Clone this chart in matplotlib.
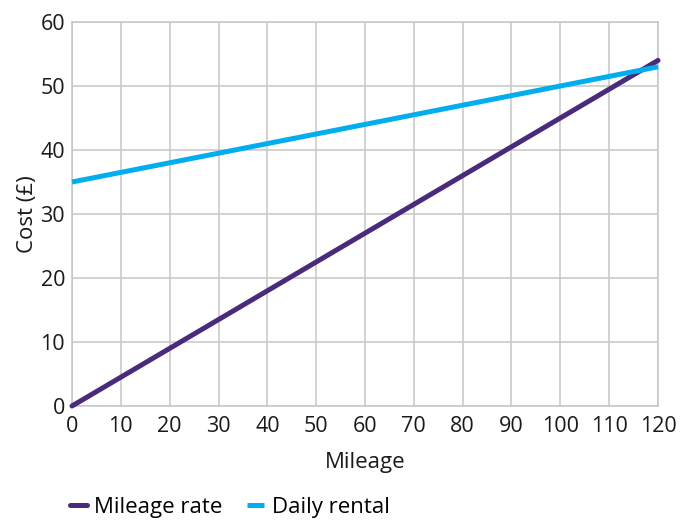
import matplotlib
matplotlib.use("Agg")
import matplotlib.pyplot as plt

plt.rcParams["font.family"] = ["Open Sans", "DejaVu Sans"]

mileage = [0, 10, 20, 30, 40, 50, 60, 70, 80, 90, 100, 110, 120]
mileage_rate = [0, 4.5, 9, 13.5, 18, 22.5, 27, 31.5, 36, 40.5, 45, 49.5, 54]
daily_rental = [35, 36.5, 38, 39.5, 41, 42.5, 44, 45.5, 47, 48.5, 50, 51.5, 53]

purple = "#4a2a7a"
cyan = "#00aeef"
grid_col = "#c6c6c6"
text_col = "#1a1a1a"

fig = plt.figure(figsize=(6.89, 5.2), dpi=100)
ax = fig.add_axes([72 / 689, 1 - 406 / 520, (658 - 72) / 689, (406 - 22) / 520])

ax.plot(mileage, mileage_rate, color=purple, lw=3.6, solid_capstyle="round",
        label="Mileage rate", zorder=3, clip_on=False)
ax.plot(mileage, daily_rental, color=cyan, lw=3.6, solid_capstyle="butt",
        label="Daily rental", zorder=3, clip_on=False)

ax.set_xlim(0, 120)
ax.set_ylim(0, 60)
ax.set_xticks(range(0, 121, 10))
ax.set_yticks(range(0, 61, 10))
ax.grid(True, color=grid_col, lw=1.1)
ax.set_axisbelow(True)
for s in ax.spines.values():
    s.set_color(grid_col)
    s.set_linewidth(1.1)
ax.tick_params(length=0, labelsize=15.5, colors=text_col)
ax.tick_params(axis="x", pad=7)
ax.tick_params(axis="y", pad=5)

ax.set_xlabel("Mileage", fontsize=16, color=text_col, labelpad=11)
ax.set_ylabel("Cost (£)", fontsize=16, color=text_col, labelpad=2)

fig.legend(loc="center left", bbox_to_anchor=(70 / 689, 1 - 507 / 520),
           frameon=False, fontsize=16, handlelength=0.75, handletextpad=0.35,
           columnspacing=1.1, ncol=2, borderaxespad=0, borderpad=0)

fig.savefig("out.png", dpi=100)
